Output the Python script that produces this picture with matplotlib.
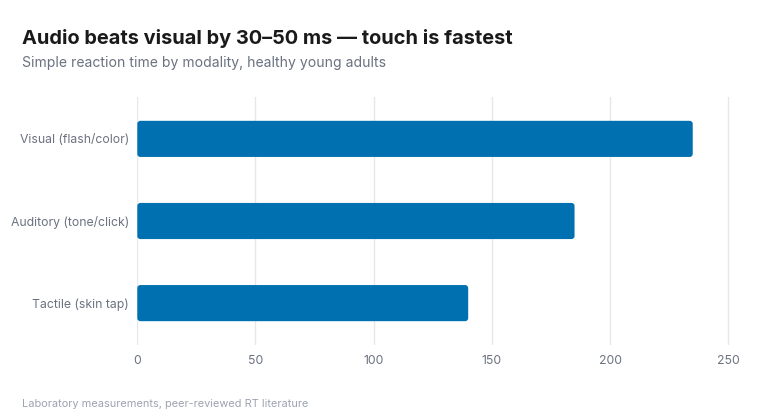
import matplotlib.pyplot as plt
from matplotlib.patches import FancyBboxPatch

plt.rcParams['font.family'] = ['Inter', 'DejaVu Sans']

categories = ["Visual (flash/color)", "Auditory (tone/click)", "Tactile (skin tap)"]
reaction_ms = [235, 185, 140]
xticks = [0, 50, 100, 150, 200, 250]

fig = plt.figure(figsize=(7.6, 4.2), dpi=100)
W, H = 760, 420
# axes box in pixels: left 137, right 740, top 97, bottom 345
ax = fig.add_axes([137.3 / W, 1 - 345 / H, (740 - 137.3) / W, (345 - 97) / H])

bar_color = "#0070b0"
bars = ax.barh(range(len(categories)), reaction_ms, height=0.44, color=bar_color)

# swap plain bars for slightly rounded ones
for b in bars:
    x, y = b.get_x(), b.get_y()
    w, h = b.get_width(), b.get_height()
    b.set_visible(False)
    ax.add_patch(FancyBboxPatch((x, y), w, h,
                                boxstyle="round,pad=0,rounding_size=1.3",
                                mutation_aspect=0.0288,
                                facecolor=bar_color, edgecolor="none", zorder=3))

ax.set_xlim(0, 255)
ax.set_ylim(len(categories) - 0.49, -0.51)
ax.set_yticks(range(len(categories)))
ax.set_yticklabels(categories)
ax.set_xticks(xticks)
ax.set_xticklabels([str(t) for t in xticks])

ax.grid(axis="x", color="#e5e7eb", linewidth=1)
ax.set_axisbelow(True)
for s in ax.spines.values():
    s.set_visible(False)
ax.tick_params(axis="both", length=0, colors="#6b7280", labelsize=8.8)
ax.tick_params(axis="y", pad=6)
ax.tick_params(axis="x", pad=7)

fig.text(22 / W, 1 - 38 / H, "Audio beats visual by 30\u201350 ms \u2014 touch is fastest",
         fontsize=14.4, fontweight="bold", color="#1a1a1a", va="center", ha="left")
fig.text(22 / W, 1 - 63 / H, "Simple reaction time by modality, healthy young adults",
         fontsize=10.1, color="#6b7280", va="center", ha="left")
fig.text(22 / W, 1 - 404 / H, "Laboratory measurements, peer-reviewed RT literature",
         fontsize=7.9, color="#9ca3af", va="center", ha="left")

fig.savefig("out.png", dpi=100)
